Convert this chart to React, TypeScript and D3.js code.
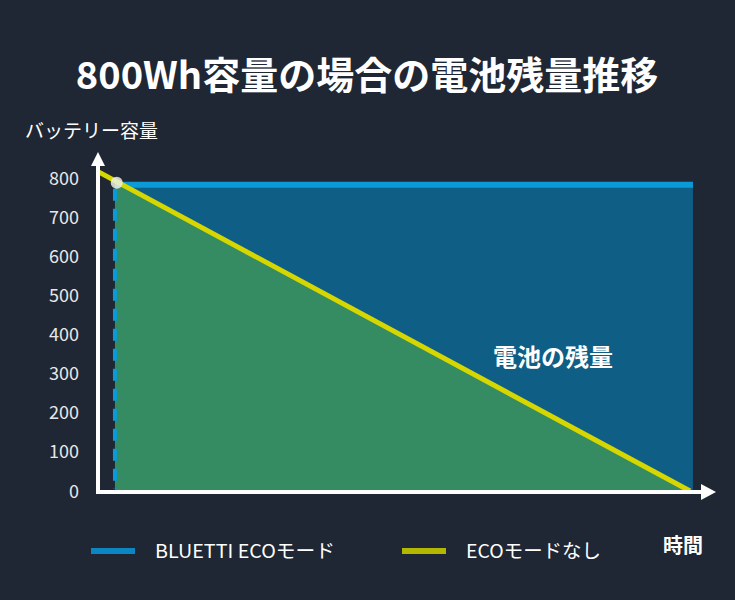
import React from "react";
import * as d3 from "d3";

const yTicks = [0, 100, 200, 300, 400, 500, 600, 700, 800];
const timeDomain = [0, 100];
const valueDomain = [0, 800];
const ecoSeries = [
  { t: 2.7, v: 783 },
  { t: 100.5, v: 783 },
];
const noEcoSeries = [
  { t: 0, v: 815 },
  { t: 100, v: 0 },
];
const markerPoint = { t: 3, v: 790 };
const legendItems = [
  { label: "BLUETTI ECOモード", color: "#0b86c2" },
  { label: "ECOモードなし", color: "#b4b700" },
];
const titleText = "800Wh容量の場合の電池残量推移";
const yAxisLabel = "バッテリー容量";
const xAxisLabel = "時間";
const areaLabel = "電池の残量";

const W = 735;
const H = 600;
const FONT = "'Noto Sans CJK JP', 'Noto Sans', sans-serif";

export default function App() {
  const x = d3.scaleLinear().domain(timeDomain).range([99, 690]);
  const y = d3.scaleLinear().domain(valueDomain).range([491, 178]);

  const ecoStart = ecoSeries[0];
  const ecoEnd = ecoSeries[ecoSeries.length - 1];
  const y0 = y(0);

  const lineVal = d3
    .scaleLinear()
    .domain(noEcoSeries.map((d) => d.t))
    .range(noEcoSeries.map((d) => d.v));

  const greenPts: [number, number][] = [
    [ecoStart.t, 0],
    [ecoStart.t, lineVal(ecoStart.t)],
    [noEcoSeries[1].t, noEcoSeries[1].v],
  ];
  const greenArea = d3
    .line<[number, number]>()
    .x((d) => x(d[0]))
    .y((d) => y(d[1]));

  const yellowLine = d3
    .line<{ t: number; v: number }>()
    .x((d) => x(d.t))
    .y((d) => y(d.v));

  const axisX = 98;

  return (
    <svg
      width={W}
      height={H}
      style={{ position: "absolute", left: 0, top: 0, background: "#1f2734" }}
    >
      <rect x={0} y={0} width={W} height={H} fill="#1f2734" />
      <text
        x={367}
        y={89}
        textAnchor="middle"
        fill="#ffffff"
        fontFamily={FONT}
        fontWeight={700}
        fontSize={38}
      >
        {titleText}
      </text>
      <text x={25} y={138} fill="#ffffff" fontFamily={FONT} fontSize={19}>
        {yAxisLabel}
      </text>

      <rect
        x={x(ecoStart.t)}
        y={y(ecoStart.v)}
        width={x(ecoEnd.t) - x(ecoStart.t)}
        height={y0 - y(ecoStart.v)}
        fill="#0f5e86"
      />
      <path d={greenArea(greenPts) + "Z"} fill="#358b62" />
      <line
        x1={x(ecoStart.t)}
        x2={x(ecoEnd.t)}
        y1={y(ecoStart.v)}
        y2={y(ecoStart.v)}
        stroke="#0a9ad8"
        strokeWidth={6}
      />
      <line
        x1={x(ecoStart.t)}
        x2={x(ecoStart.t)}
        y1={y(ecoStart.v) + 3}
        y2={y0 - 2}
        stroke="#0a9ad8"
        strokeWidth={4}
        strokeDasharray="12,8"
        strokeDashoffset={-1}
      />
      <path
        d={yellowLine(noEcoSeries) || ""}
        fill="none"
        stroke="#d6d600"
        strokeWidth={5}
      />
      <circle
        cx={x(markerPoint.t)}
        cy={y(lineVal(markerPoint.t)) + 1}
        r={6}
        fill="#eceee0"
        opacity={0.85}
      />

      <line x1={axisX} x2={axisX} y1={162} y2={494} stroke="#fff" strokeWidth={4} />
      <path d={`M${axisX - 7},166 L${axisX},152 L${axisX + 7},166 Z`} fill="#fff" />
      <line x1={96} x2={704} y1={492} y2={492} stroke="#fff" strokeWidth={4} />
      <path d="M701,484 L716,492 L701,500 Z" fill="#fff" />

      {yTicks.map((t) => (
        <text
          key={t}
          x={79}
          y={y(t) + 6.5}
          textAnchor="end"
          fill="#e8e8e8"
          fontFamily={FONT}
          fontSize={18}
        >
          {t}
        </text>
      ))}

      <text
        x={553}
        y={366}
        textAnchor="middle"
        fill="#ffffff"
        fontFamily={FONT}
        fontWeight={700}
        fontSize={24}
      >
        {areaLabel}
      </text>

      <text x={663} y={553} fill="#ffffff" fontFamily={FONT} fontWeight={700} fontSize={20}>
        {xAxisLabel}
      </text>

      {legendItems.map((item, i) => {
        const lx = i === 0 ? 91 : 402;
        const tw = i === 0 ? 180 : 135;
        return (
          <g key={item.label}>
            <line x1={lx} x2={lx + 44} y1={551} y2={551} stroke={item.color} strokeWidth={6} />
            <text
              x={lx + 64}
              y={558}
              fill="#ffffff"
              fontFamily={FONT}
              fontSize={19}
              textLength={tw}
              lengthAdjust="spacingAndGlyphs"
            >
              {item.label}
            </text>
          </g>
        );
      })}
    </svg>
  );
}
